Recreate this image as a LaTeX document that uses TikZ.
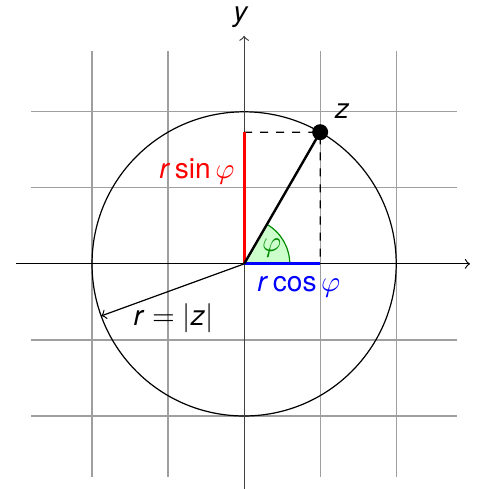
\documentclass[tikz,border=0pt]{standalone}
\usepackage{fontspec}
\setmainfont{TeX Gyre Heros}
\begin{document}
\begin{tikzpicture}[x=1cm,y=1cm,
  gridline/.style={gray!75, line width=0.45pt},
  axis/.style={black, line width=0.45pt, ->},
  lbl/.style={font=\fontsize{10.5}{12.5}\selectfont, inner sep=1pt},
  seg/.style={line width=1.2pt},
  dashline/.style={dashed, line width=0.45pt}]
\useasboundingbox (-3.21,-2.96) rectangle (3.07,3.47);
\draw[gridline] (-2.8,-2.8) grid (2.8,2.8);
\draw[black, line width=0.45pt] (0,0) circle (2);
\coordinate (O) at (0,0);
\coordinate (xl) at (-3,0);
\coordinate (xr) at (2.97,0);
\coordinate (yb) at (0,-3.1);
\coordinate (yt) at (0,3.0);
\coordinate (Z) at (60:2);
\coordinate (Sy) at (0,1.732);
\coordinate (Cx) at (1,0);
\coordinate (R) at (200:2);
\draw[axis] (xl) -- (xr);
\draw[axis, black!75] (yb) -- (yt);
\node[lbl] (ylab) at (-0.04,3.24) {\textit{y}};
\filldraw[fill=green!20, draw=green!55!black, line width=0.45pt] (O) -- (0.6,0) arc (0:60:0.6) -- cycle;
\node[lbl, text=green!55!black] (phi) at (30:0.42) {$\varphi$};
\draw[dashline] (Sy) -- (Z) -- (Cx);
\draw[seg, red] (O) -- (Sy);
\draw[seg, blue] (O) -- (Cx);
\draw[black, line width=0.9pt] (O) -- (Z);
\fill[black] (Z) circle (0.105);
\node[lbl] (zlab) at (1.29,2.01) {\textit{z}};
\draw[black, line width=0.45pt, ->] (O) -- (R);
\node[lbl] (rlab) at (-0.93,-0.72) {\textit{r} $=$ $|$\textit{z}$|$};
\node[lbl, text=red] (sinlab) at (-0.62,1.21) {\textit{r}\,sin\,$\varphi$};
\node[lbl, text=blue] (coslab) at (0.72,-0.3) {\textit{r}\,cos\,$\varphi$};
\end{tikzpicture}
\end{document}
